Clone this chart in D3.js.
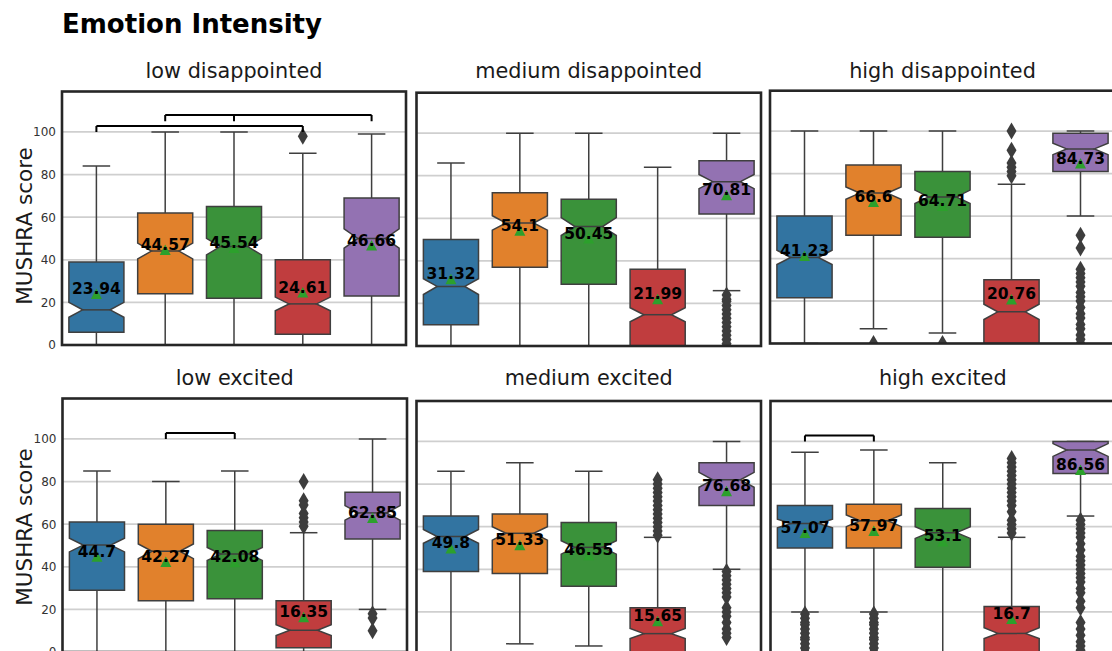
<!DOCTYPE html>
<html>
<head>
<meta charset="utf-8">
<script src="https://cdn.jsdelivr.net/npm/d3@7"></script>
<style>
  html, body { margin: 0; padding: 0; background: #ffffff; overflow: hidden; }
  svg { display: block; font-family: "DejaVu Sans", sans-serif; }
</style>
</head>
<body>
<svg id="chart" width="1112" height="651"></svg>
<script>
// ---- data ---------------------------------------------------------------
const chartTitle = "Emotion Intensity";
const yLabel = "MUSHRA score";
const panelTitles = [
  "low disappointed", "medium disappointed", "high disappointed",
  "low excited", "medium excited", "high excited"
];
const yTicks = [0, 20, 40, 60, 80, 100];
const boxColors = ["#3274a1", "#e1812c", "#3a923a", "#c03d3e", "#9372b2"];

// one row per panel, one value per condition
const means = [
  [23.94, 44.57, 45.54, 24.61, 46.66],
  [31.32, 54.1, 50.45, 21.99, 70.81],
  [41.23, 66.6, 64.71, 20.76, 84.73],
  [44.7, 42.27, 42.08, 16.35, 62.85],
  [49.8, 51.33, 46.55, 15.65, 76.68],
  [57.07, 57.97, 53.1, 16.7, 86.56]
];
const whiskerLow = [
  [0, 0, 0, 0, 0],
  [0, 0, 0, 0, 26],
  [0, 7, 5, 0, 60],
  [0, 0, 0, 0, 20],
  [1, 5, 4, 0, 40],
  [20, 20, 0, 0, 65]
];
const q1 = [
  [6, 24, 22, 5, 23],
  [10, 37, 29, 0, 62],
  [21.5, 51, 50, 0, 81],
  [29, 24, 25, 2, 53],
  [39, 38, 32, 0, 70],
  [50, 50, 41, 0, 85]
];
const medians = [
  [16.5, 44.1, 46.2, 19.3, 50],
  [28, 57.8, 56.1, 14.7, 77.2],
  [40.5, 70.8, 69, 14.9, 91.6],
  [50.2, 47.3, 46, 10.2, 65.3],
  [55.4, 56.9, 50.3, 9.8, 82],
  [61.5, 62.8, 57.2, 9.9, 96]
];
const notchLow = [
  [13, 40.4, 42.3, 16.1, 45.5],
  [24.2, 54.4, 51.9, 11.4, 73.9],
  [37.2, 67.9, 65.9, 11.3, 88.9],
  [47, 43.8, 43, 7.7, 61.9],
  [52.2, 53.7, 47.1, 7.5, 78.5],
  [59.5, 60, 54.5, 7.5, 93]
];
const notchHigh = [
  [20, 47.8, 50.1, 22.5, 54.5],
  [31.6, 61.2, 60.3, 18, 80.6],
  [43.9, 73.7, 72.2, 18.5, 94.3],
  [53.4, 50.7, 49.1, 12.8, 68.7],
  [58.7, 60, 53.4, 12.2, 85.5],
  [63.5, 65.5, 60, 12.6, 99]
];
const q3 = [
  [39, 62, 65, 40, 69],
  [50, 72, 69, 36, 87],
  [60, 84, 81, 30, 99],
  [61, 60, 57, 24, 75],
  [65, 66, 62, 22, 90],
  [70, 70.5, 68.5, 22.5, 100]
];
const whiskerHigh = [
  [84, 100, 100, 90, 99],
  [86, 100, 100, 84, 100],
  [100, 100, 100, 75, 100],
  [85, 80, 85, 56, 100],
  [86, 90, 86, 55, 100],
  [95, 96, 90, 55, 100]
];
const outliers = [
  [[], [], [], [98], []],
  [[], [], [], [], [24, 22, 21, 19, 17, 15, 13, 11, 9, 7, 5, 3, 1]],
  [[], [0], [0], [100, 91, 85, 83, 81, 79],
   [51, 45, 35, 33, 31, 29, 27, 24, 22, 20, 17, 14, 12, 9, 7, 4, 2, 0]],
  [[], [], [], [80, 71, 69, 65, 63, 61, 59], [18, 16, 10]],
  [[], [], [], [82, 80, 78, 76, 74, 72, 70, 68, 66, 64, 62, 60, 58, 56],
   [39, 37, 35, 33, 31, 29, 27, 22, 20, 18, 15, 12, 10, 8]],
  [[19, 17, 15, 14, 12, 10, 8, 7, 5, 3, 1],
   [19, 17, 15, 14, 12, 10, 8, 7, 5, 3, 1],
   [],
   [92, 90, 88, 86, 84, 82, 80, 78, 76, 74, 72, 70, 67, 63, 61, 59, 57],
   [63, 61, 59, 57, 55, 52, 49, 46, 44, 42, 40, 38, 36, 34, 31, 29, 25, 22, 15, 12, 9, 6, 4, 2, 0]]
];
// significance brackets: conditions joined, bar level and foot level (score units)
const brackets = [
  [{ groups: [0, 3], top: 102.8, foot: 100 }, { groups: [1, 2, 4], top: 108, foot: 105 }],
  [],
  [],
  [{ groups: [1, 2], top: 102.8, foot: 100 }],
  [],
  [{ groups: [0, 1], top: 102.8, foot: 100 }]
];

// ---- layout -------------------------------------------------------------
const frames = [
  { x0: 62, x1: 406, y0: 91.5, y1: 345 },
  { x0: 416.5, x1: 761, y0: 92.7, y1: 346 },
  { x0: 770, x1: 1115, y0: 90.7, y1: 343.5 },
  { x0: 62.5, x1: 407, y0: 398.5, y1: 652 },
  { x0: 416.5, x1: 761, y0: 401, y1: 654.5 },
  { x0: 770.5, x1: 1115, y0: 401, y1: 654.5 }
];
const yDomain = [0, 119];
const lineColor = "#3f3f3f";

const svg = d3.select("#chart");
const defs = svg.append("defs");

svg.append("text")
  .attr("x", 62).attr("y", 33)
  .attr("font-size", 26).attr("font-weight", "bold").attr("fill", "#000")
  .text(chartTitle);

const diamond = "M0,-8.5L5,0L0,8.5L-5,0Z";
const triangle = "M0,-5.5L5.5,5L-5.5,5Z";

frames.forEach((f, p) => {
  const x = d3.scaleBand().domain(d3.range(boxColors.length))
    .range([f.x0, f.x1]).paddingInner(0.2).paddingOuter(0.1);
  const y = d3.scaleLinear().domain(yDomain).range([f.y1, f.y0]);
  const bw = x.bandwidth();
  const cx = i => x(i) + bw / 2;

  defs.append("clipPath").attr("id", "clip" + p)
    .append("rect").attr("x", f.x0).attr("y", f.y0)
    .attr("width", f.x1 - f.x0).attr("height", f.y1 - f.y0);

  const g = svg.append("g");

  // panel title
  g.append("text")
    .attr("x", (f.x0 + f.x1) / 2)
    .attr("y", p < 3 ? 78.3 : 385)
    .attr("text-anchor", "middle")
    .attr("font-size", 20.8).attr("fill", "#1a1a1a")
    .text(panelTitles[p]);

  const plot = g.append("g").attr("clip-path", `url(#clip${p})`);

  // horizontal grid
  plot.selectAll("line.grid").data(yTicks).join("line")
    .attr("class", "grid")
    .attr("x1", f.x0).attr("x2", f.x1)
    .attr("y1", d => y(d)).attr("y2", d => y(d))
    .attr("stroke", "#cfcfcf").attr("stroke-width", 1.8);

  const idx = d3.range(boxColors.length);

  // whiskers
  plot.selectAll("line.wlo").data(idx).join("line")
    .attr("x1", cx).attr("x2", cx)
    .attr("y1", i => y(q1[p][i])).attr("y2", i => y(whiskerLow[p][i]))
    .attr("stroke", lineColor).attr("stroke-width", 1.5);
  plot.selectAll("line.whi").data(idx).join("line")
    .attr("x1", cx).attr("x2", cx)
    .attr("y1", i => y(q3[p][i])).attr("y2", i => y(whiskerHigh[p][i]))
    .attr("stroke", lineColor).attr("stroke-width", 1.5);
  // caps
  ["low", "high"].forEach(side => {
    const src = side === "low" ? whiskerLow : whiskerHigh;
    plot.selectAll("line.cap" + side).data(idx).join("line")
      .attr("x1", i => cx(i) - bw / 4).attr("x2", i => cx(i) + bw / 4)
      .attr("y1", i => y(src[p][i])).attr("y2", i => y(src[p][i]))
      .attr("stroke", lineColor).attr("stroke-width", 1.5);
  });

  // notched boxes
  const boxPath = i => {
    const l = x(i), r = x(i) + bw, q = bw / 4;
    const pts = [
      [l, y(q1[p][i])], [r, y(q1[p][i])],
      [r, y(notchLow[p][i])], [r - q, y(medians[p][i])], [r, y(notchHigh[p][i])],
      [r, y(q3[p][i])], [l, y(q3[p][i])],
      [l, y(notchHigh[p][i])], [l + q, y(medians[p][i])], [l, y(notchLow[p][i])]
    ];
    return d3.line()(pts) + "Z";
  };
  plot.selectAll("path.box").data(idx).join("path")
    .attr("d", boxPath)
    .attr("fill", i => boxColors[i])
    .attr("stroke", lineColor).attr("stroke-width", 1.5)
    .attr("stroke-linejoin", "miter");
  // medians
  plot.selectAll("line.med").data(idx).join("line")
    .attr("x1", i => x(i) + bw / 4).attr("x2", i => x(i) + 3 * bw / 4)
    .attr("y1", i => y(medians[p][i])).attr("y2", i => y(medians[p][i]))
    .attr("stroke", lineColor).attr("stroke-width", 1.5);

  // outliers
  idx.forEach(i => {
    plot.selectAll(null).data(outliers[p][i]).join("path")
      .attr("d", diamond)
      .attr("transform", v => `translate(${cx(i)},${y(v)})`)
      .attr("fill", "#3d3d3d");
  });

  // means
  plot.selectAll("path.mean").data(idx).join("path")
    .attr("d", triangle)
    .attr("transform", i => `translate(${cx(i)},${y(means[p][i])})`)
    .attr("fill", "#2ca02c");

  // mean labels
  plot.selectAll("text.lbl").data(idx).join("text")
    .attr("x", cx).attr("y", i => y(means[p][i]))
    .attr("text-anchor", "middle")
    .attr("font-size", 15.5).attr("font-weight", "bold").attr("fill", "#000")
    .text(i => String(means[p][i]));

  // significance brackets
  brackets[p].forEach(b => {
    const xs = b.groups.map(cx);
    plot.append("line")
      .attr("x1", d3.min(xs)).attr("x2", d3.max(xs))
      .attr("y1", y(b.top)).attr("y2", y(b.top))
      .attr("stroke", "#000").attr("stroke-width", 2);
    xs.forEach(xx => {
      plot.append("line")
        .attr("x1", xx).attr("x2", xx)
        .attr("y1", y(b.top)).attr("y2", y(b.foot))
        .attr("stroke", "#000").attr("stroke-width", 2);
    });
  });

  // y axis on the first column
  if (p % 3 === 0) {
    const ax = g.append("g")
      .attr("transform", `translate(${f.x0},0)`)
      .call(d3.axisLeft(y).tickValues(yTicks).tickSize(0).tickPadding(6));
    ax.select(".domain").remove();
    ax.selectAll("text")
      .attr("font-family", "DejaVu Sans").attr("font-size", 12).attr("fill", "#333");
    g.append("text")
      .attr("transform", `translate(32,${p < 3 ? 226 : 527}) rotate(-90)`)
      .attr("text-anchor", "middle")
      .attr("font-size", 21.5).attr("fill", "#1a1a1a")
      .text(yLabel);
  }

  // frame
  g.append("rect")
    .attr("x", f.x0).attr("y", f.y0)
    .attr("width", f.x1 - f.x0).attr("height", f.y1 - f.y0)
    .attr("fill", "none").attr("stroke", "#262626").attr("stroke-width", 2.6);
});
</script>
</body>
</html>
